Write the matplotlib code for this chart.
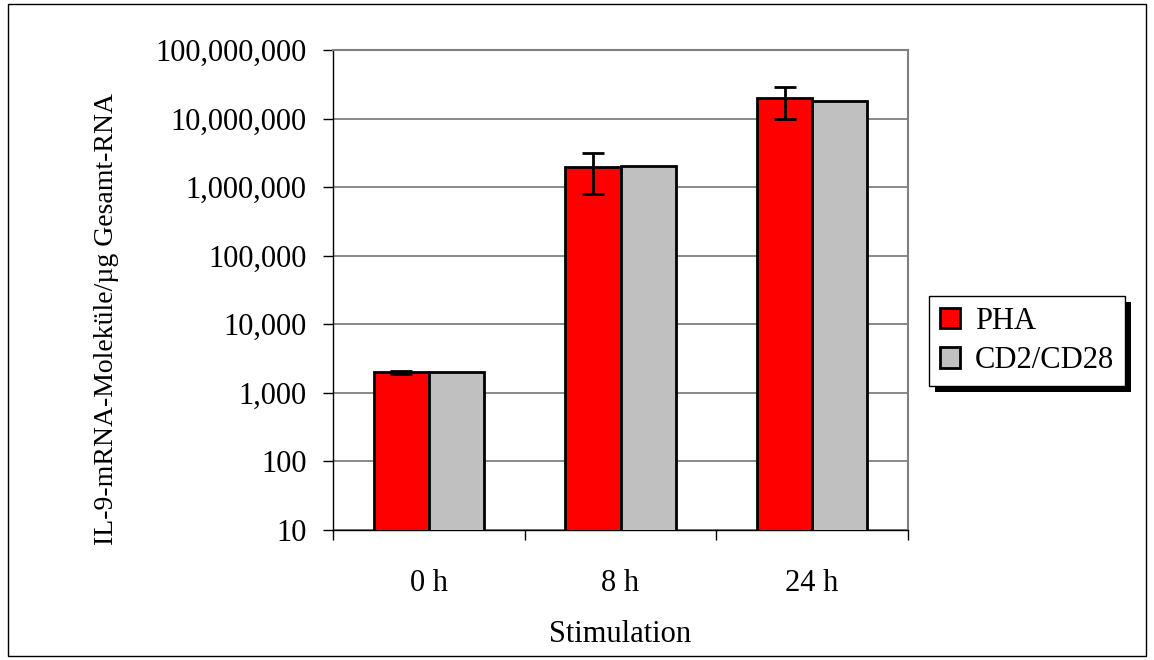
import numpy as np
import matplotlib.pyplot as plt
from matplotlib.patches import Rectangle
from matplotlib.ticker import FixedLocator, FuncFormatter

plt.rcParams['font.family'] = ['Liberation Serif', 'DejaVu Serif']

categories = ["0 h", "8 h", "24 h"]
pha = [2000, 2000000, 20000000]
pha_err_low = [100, 1200000, 10000000]
pha_err_high = [100, 1100000, 9000000]
cd = [2000, 2050000, 17800000]
series_names = ["PHA", "CD2/CD28"]

W, H = 1154, 660
fig = plt.figure(figsize=(W / 100, H / 100), dpi=100)
ax = fig.add_axes([333 / W, 1 - 530 / H, 575 / W, 480 / H])

x = np.arange(len(categories))
w = 0.287
ax.bar(x - w / 2, pha, w, color="#ff0000", edgecolor="black", linewidth=2,
       label=series_names[0], zorder=3)
ax.bar(x + w / 2, cd, w, color="#c0c0c0", edgecolor="black", linewidth=2,
       label=series_names[1], zorder=3)
ax.errorbar(x - w / 2, pha, yerr=[pha_err_low, pha_err_high], fmt="none",
            ecolor="black", elinewidth=2, capsize=8, capthick=2, zorder=4)

ax.set_yscale("log")
ax.set_ylim(10, 1e8)
ax.set_xlim(-0.5, 2.5)
ticks = [10 ** k for k in range(1, 9)]
ax.yaxis.set_major_locator(FixedLocator(ticks))
ax.yaxis.set_minor_locator(FixedLocator([]))
ax.yaxis.set_major_formatter(FuncFormatter(lambda v, p: f"{int(round(v)):,}"))
ax.grid(axis="y", color="#808080", linewidth=1.3, zorder=0)

ax.set_xticks([-0.5, 0.5, 1.5, 2.5])
ax.set_xticklabels([])
ax.set_xticks(x, minor=True)
ax.set_xticklabels(categories, minor=True)
ax.tick_params(axis="x", which="major", direction="out", length=7, width=1, color="black")
ax.tick_params(axis="x", which="minor", length=0, pad=28, labelsize=22)
ax.tick_params(axis="y", direction="out", length=7, width=1, labelsize=22, pad=12)

for s in ["top", "right"]:
    ax.spines[s].set_color("#808080")
    ax.spines[s].set_linewidth(1.5)
for s in ["left", "bottom"]:
    ax.spines[s].set_color("black")
    ax.spines[s].set_linewidth(1)

ax.set_ylabel("IL-9-mRNA-Moleküle/µg Gesamt-RNA", fontsize=20)
ax.yaxis.set_label_coords((119 - 333) / 575, (530 - 319) / 480)
ax.set_xlabel("Stimulation", fontsize=22, labelpad=16)

leg = fig.legend(loc="upper left", bbox_to_anchor=(929 / W, 1 - 296 / H),
                 fontsize=22, frameon=True, fancybox=False, shadow=False,
                 framealpha=1, edgecolor="black", handlelength=0.65, handleheight=0.65,
                 handletextpad=0.5, borderpad=0.35, labelspacing=0.35,
                 borderaxespad=0)
leg.get_frame().set_linewidth(1)
leg.set_zorder(5)

# legend drop shadow, offset ~6 px
fig.canvas.draw()
bb = leg.get_window_extent().transformed(fig.transFigure.inverted())
fig.patches.append(Rectangle((bb.x0 + 6 / W, bb.y0 - 6 / H), bb.width, bb.height,
                             transform=fig.transFigure, facecolor="black",
                             edgecolor="none", zorder=4))

fig.patches.append(Rectangle((8 / W, 4 / H), 1138 / W, 652 / H,
                             transform=fig.transFigure, fill=False,
                             edgecolor="black", linewidth=1))

fig.savefig("out.png", dpi=100)
